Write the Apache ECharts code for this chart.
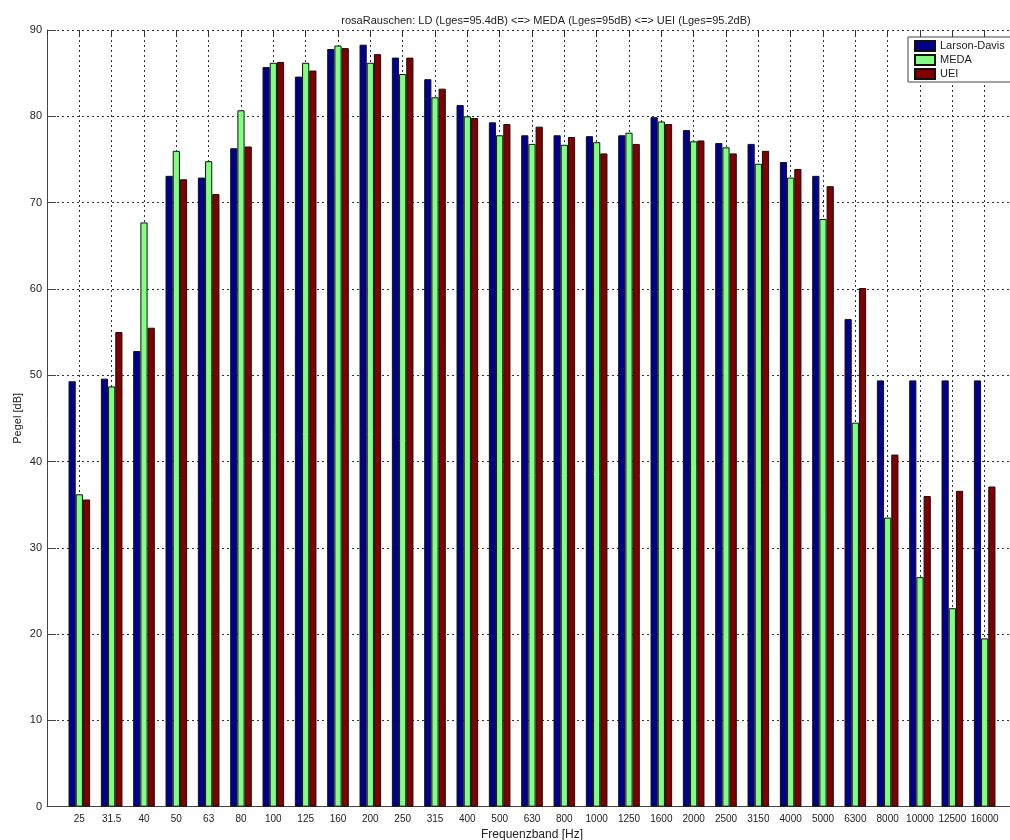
<!DOCTYPE html>
<html>
<head>
<meta charset="utf-8">
<title>rosaRauschen</title>
<script src="https://cdn.jsdelivr.net/npm/echarts@6/dist/echarts.min.js"></script>
<style>
  html, body { margin: 0; padding: 0; background: #fff; }
  #chart { width: 1010px; height: 840px; }
</style>
</head>
<body>
<div id="chart"></div>
<script>
// Third-octave bands (Hz)
const bands = ['25', '31.5', '40', '50', '63', '80', '100', '125', '160', '200', '250', '315', '400',
  '500', '630', '800', '1000', '1250', '1600', '2000', '2500', '3150', '4000', '5000', '6300',
  '8000', '10000', '12500', '16000'];

// Band levels in dB per instrument
const larsonDavis = [49.3, 49.6, 52.8, 73.1, 72.9, 76.3, 85.7, 84.6, 87.8, 88.3, 86.8, 84.3, 81.3,
  79.3, 77.8, 77.8, 77.7, 77.8, 79.9, 78.4, 76.9, 76.8, 74.7, 73.1, 56.5, 49.4, 49.4, 49.4, 49.4];
const meda = [36.2, 48.7, 67.7, 76.0, 74.8, 80.7, 86.2, 86.2, 88.2, 86.2, 84.9, 82.2, 80.0,
  77.8, 76.8, 76.7, 77.0, 78.1, 79.4, 77.1, 76.4, 74.5, 72.9, 68.1, 44.5, 33.5, 26.6, 23.0, 19.5];
const uei = [35.6, 55.0, 55.5, 72.7, 71.0, 76.5, 86.3, 85.3, 87.9, 87.2, 86.8, 83.2, 79.8,
  79.1, 78.8, 77.6, 75.7, 76.8, 79.1, 77.2, 75.7, 76.0, 73.9, 71.9, 60.1, 40.8, 36.0, 36.6, 37.1];

const seriesNames = ['Larson-Davis', 'MEDA', 'UEI'];
const seriesColors = ['#00008F', '#80FF80', '#800000'];
const yTicks = { min: 0, max: 90, step: 10 };

const FONT = 'Liberation Sans, Arial, sans-serif';
const dotted = { color: '#333', width: 1, type: [2, 3] };

function toPoints(values) {
  return values.map((v, i) => [i + 1, v]);
}

const chart = echarts.init(document.getElementById('chart'), null, { renderer: 'canvas' });

const series = [larsonDavis, meda, uei].map((vals, k) => ({
  name: seriesNames[k],
  type: 'bar',
  data: toPoints(vals),
  barWidth: 7.2,
  barGap: '0%',
  itemStyle: { color: seriesColors[k], borderColor: '#111', borderWidth: 1 },
  emphasis: { disabled: true },
  z: 3
}));

chart.setOption({
  animation: false,
  backgroundColor: '#fff',
  title: {
    text: 'rosaRauschen: LD (Lges=95.4dB) <=> MEDA (Lges=95dB) <=> UEI (Lges=95.2dB)',
    left: 541,
    top: 10,
    textAlign: 'center',
    textStyle: { fontFamily: FONT, fontSize: 11, fontWeight: 'normal', color: '#222' }
  },
  legend: {
    orient: 'vertical',
    left: 908,
    top: 37,
    padding: [3, 40, 2, 6],
    itemWidth: 20,
    itemHeight: 10,
    itemGap: 2,
    icon: 'rect',
    backgroundColor: '#fff',
    borderColor: '#444',
    borderWidth: 1,
    textStyle: { fontFamily: FONT, fontSize: 11, color: '#222' },
    data: seriesNames
  },
  grid: { left: 47, top: 30, width: 970, height: 776.7, outerBoundsMode: 'none', containLabel: false },
  xAxis: [{
    type: 'value',
    min: 0,
    max: bands.length + 1,
    interval: 1,
    name: 'Frequenzband [Hz]',
    nameLocation: 'middle',
    nameGap: 22,
    nameMoveOverlap: false,
    nameTextStyle: { fontFamily: FONT, fontSize: 12, color: '#222' },
    axisLine: { show: true, lineStyle: { color: '#444', width: 1 } },
    axisTick: { show: false },
    axisLabel: {
      fontFamily: FONT, fontSize: 10, color: '#222', margin: 8,
      showMinLabel: false, showMaxLabel: false,
      formatter: v => bands[v - 1] || ''
    },
    splitLine: { show: true, lineStyle: dotted }
  }, {
    type: 'value',
    position: 'top',
    min: 0,
    max: bands.length + 1,
    interval: 1,
    axisLine: { show: false },
    axisTick: { show: true, inside: true, length: 5, lineStyle: { color: '#333' } },
    axisLabel: { show: false },
    splitLine: { show: false }
  }],
  yAxis: {
    type: 'value',
    min: yTicks.min,
    max: yTicks.max,
    interval: yTicks.step,
    name: 'Pegel [dB]',
    nameLocation: 'middle',
    nameGap: 24,
    nameMoveOverlap: false,
    nameTextStyle: { fontFamily: FONT, fontSize: 11, color: '#222' },
    axisLine: { show: true, lineStyle: { color: '#444', width: 1 } },
    axisTick: { show: true, inside: true, length: 9, lineStyle: { color: '#444' } },
    axisLabel: { fontFamily: FONT, fontSize: 11, color: '#222', margin: 5 },
    splitLine: { show: true, lineStyle: dotted }
  },
  series: series
});
</script>
</body>
</html>
